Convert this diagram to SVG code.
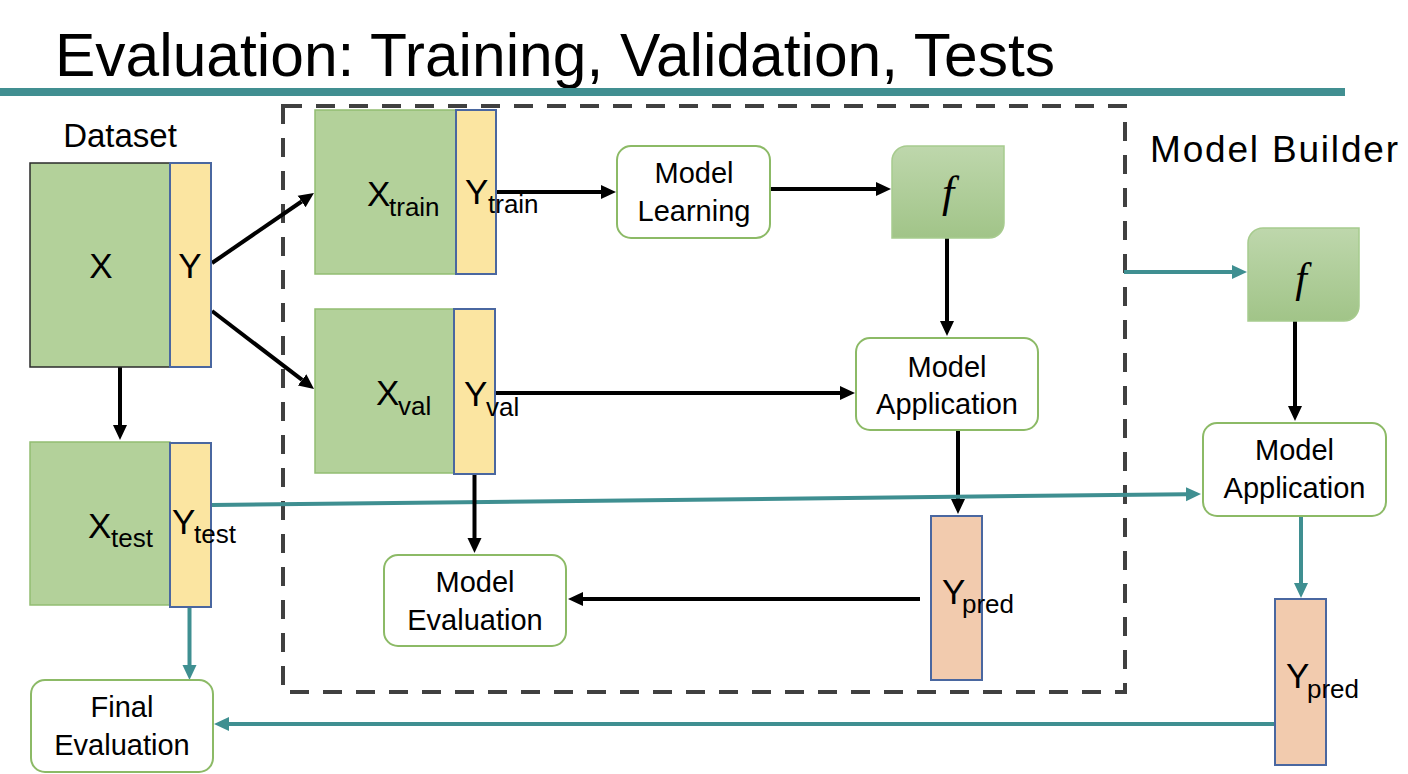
<svg xmlns="http://www.w3.org/2000/svg" width="1408" height="774" viewBox="0 0 1408 774">
<style>
text{font-family:"Liberation Sans",Arial,sans-serif;fill:#000}
.title{font-size:62px}
.lbl{font-size:29px;text-anchor:middle}
.big{font-size:35px}
.sub{font-size:26px}
.fn{font-family:"Liberation Serif","Times New Roman",serif;font-style:italic;text-anchor:middle}
.xg{fill:#b3d19a;stroke:#92bd72;stroke-width:1.5}
.xd{fill:#b3d19a;stroke:#2b2b2b;stroke-width:1.5}
.yb{fill:#fbe5a1;stroke:#4a67a0;stroke-width:2}
.yp{fill:#f2cbae;stroke:#4a67a0;stroke-width:2}
.box{fill:#fff;stroke:#8cba66;stroke-width:2}
.fbox{fill:url(#fg);stroke:#a7cb8e;stroke-width:1.5}
.blk{stroke:#000;stroke-width:4;fill:none}
.tl{stroke:#3f8f91;stroke-width:4;fill:none}
</style>
<defs>
<linearGradient id="fg" x1="0" y1="0" x2="0" y2="1">
<stop offset="0" stop-color="#bed7ac"/>
<stop offset="1" stop-color="#a1c488"/>
</linearGradient>
<marker id="ab" markerUnits="userSpaceOnUse" viewBox="0 -8 15 16" refX="0" refY="0" markerWidth="15" markerHeight="16" orient="auto">
<path d="M0,-7 L15,0 L0,7 Z" fill="#000"/>
</marker>
<marker id="at" markerUnits="userSpaceOnUse" viewBox="0 -8 15 16" refX="0" refY="0" markerWidth="15" markerHeight="16" orient="auto">
<path d="M0,-7 L15,0 L0,7 Z" fill="#3f8f91"/>
</marker>
</defs>

<g id="title">
<text class="title" x="55" y="76" textLength="1000" lengthAdjust="spacingAndGlyphs">Evaluation: Training, Validation, Tests</text>
<rect x="0" y="88" width="1345" height="8" fill="#418f91"/>
</g>

<g id="model-builder-frame">
<rect x="283" y="106" width="842" height="586" fill="none" stroke="#404040" stroke-width="4" stroke-dasharray="19 14"/>
<text x="1150" y="162" style="font-size:37px" textLength="248" lengthAdjust="spacing">Model Builder</text>
</g>

<g id="connectors">
<line class="blk" x1="212" y1="263" x2="301.6" y2="201.5" marker-end="url(#ab)"/>
<line class="blk" x1="212" y1="311" x2="302.1" y2="379.9" marker-end="url(#ab)"/>
<line class="blk" x1="120" y1="367" x2="120" y2="425" marker-end="url(#ab)"/>
<line class="blk" x1="496" y1="192" x2="601" y2="192" marker-end="url(#ab)"/>
<line class="blk" x1="770" y1="189" x2="876" y2="189" marker-end="url(#ab)"/>
<line class="blk" x1="947" y1="238" x2="947" y2="321" marker-end="url(#ab)"/>
<line class="blk" x1="495" y1="393" x2="840" y2="393" marker-end="url(#ab)"/>
<line class="blk" x1="958" y1="431" x2="958" y2="499" marker-end="url(#ab)"/>
<line class="blk" x1="920" y1="599" x2="583" y2="599" marker-end="url(#ab)"/>
<line class="tl" x1="212" y1="505" x2="1186" y2="494.2" marker-end="url(#at)"/>
<line class="blk" x1="474.5" y1="474" x2="474.5" y2="538" marker-end="url(#ab)"/>
<line class="tl" x1="189.5" y1="607" x2="189.5" y2="665" marker-end="url(#at)"/>
<line class="tl" x1="1275" y1="724" x2="229" y2="724" marker-end="url(#at)"/>
<line class="tl" x1="1301" y1="517" x2="1301" y2="583" marker-end="url(#at)"/>
<line class="blk" x1="1295" y1="321" x2="1295" y2="406" marker-end="url(#ab)"/>
<line class="tl" x1="1124" y1="272" x2="1232" y2="272" marker-end="url(#at)"/>
</g>

<g id="dataset">
<text x="120" y="147" style="font-size:33px" text-anchor="middle">Dataset</text>
<rect class="xd" x="30" y="163" width="140" height="204"/>
<rect class="yb" x="170" y="163" width="41" height="204"/>
<text class="big" x="101" y="278" text-anchor="middle">X</text>
<text class="big" x="190" y="278" text-anchor="middle">Y</text>
</g>

<g id="train-set">
<rect class="xg" x="315" y="110" width="141" height="164"/>
<rect class="yb" x="456" y="110" width="40" height="164"/>
<text class="big" x="367" y="206">X<tspan class="sub" x="389" y="216">train</tspan></text>
<text class="big" x="465" y="204">Y<tspan class="sub" x="488" y="213">train</tspan></text>
</g>

<g id="val-set">
<rect class="xg" x="315" y="309" width="139" height="164"/>
<rect class="yb" x="454" y="309" width="41" height="165"/>
<text class="big" x="376" y="405">X<tspan class="sub" x="398" y="415">val</tspan></text>
<text class="big" x="464" y="406">Y<tspan class="sub" x="486" y="416">val</tspan></text>
</g>

<g id="test-set">
<rect class="xg" x="30" y="442" width="140" height="163"/>
<rect class="yb" x="170" y="443" width="41" height="164"/>
<text class="big" x="88" y="538">X<tspan class="sub" x="111" y="547">test</tspan></text>
<text class="big" x="172" y="534">Y<tspan class="sub" x="194" y="543">test</tspan></text>
</g>

<g id="model-learning">
<rect class="box" x="617" y="146" width="153" height="92" rx="14"/>
<text class="lbl" x="694" y="183">Model</text>
<text class="lbl" x="694" y="221">Learning</text>
</g>

<g id="f-inner">
<path class="fbox" d="M892,161 A15,15 0 0 1 907,146 L1004,146 L1004,223 A15,15 0 0 1 989,238 L892,238 Z"/>
<text class="fn" x="948" y="207" style="font-size:44px">f</text>
</g>

<g id="model-application-inner">
<rect class="box" x="856" y="338" width="182" height="92" rx="14"/>
<text class="lbl" x="947" y="377">Model</text>
<text class="lbl" x="947" y="414">Application</text>
</g>

<g id="ypred-inner">
<rect class="yp" x="931" y="516" width="51" height="164"/>
<text class="big" x="942" y="604">Y<tspan class="sub" x="962" y="613">pred</tspan></text>
</g>

<g id="model-evaluation">
<rect class="box" x="384" y="555" width="182" height="91" rx="14"/>
<text class="lbl" x="475" y="592">Model</text>
<text class="lbl" x="475" y="630">Evaluation</text>
</g>

<g id="f-outer">
<path class="fbox" d="M1248,243 A15,15 0 0 1 1263,228 L1359,228 L1359,306 A15,15 0 0 1 1344,321 L1248,321 Z"/>
<text class="fn" x="1301" y="292" style="font-size:42px">f</text>
</g>

<g id="model-application-outer">
<rect class="box" x="1203" y="423" width="183" height="93" rx="14"/>
<text class="lbl" x="1294.5" y="460">Model</text>
<text class="lbl" x="1294.5" y="498">Application</text>
</g>

<g id="ypred-outer">
<rect class="yp" x="1275" y="599" width="51" height="166"/>
<text class="big" x="1286" y="688">Y<tspan class="sub" x="1307" y="698">pred</tspan></text>
</g>

<g id="final-evaluation">
<rect class="box" x="31" y="680" width="182" height="92" rx="14"/>
<text class="lbl" x="122" y="717">Final</text>
<text class="lbl" x="122" y="755">Evaluation</text>
</g>
</svg>
